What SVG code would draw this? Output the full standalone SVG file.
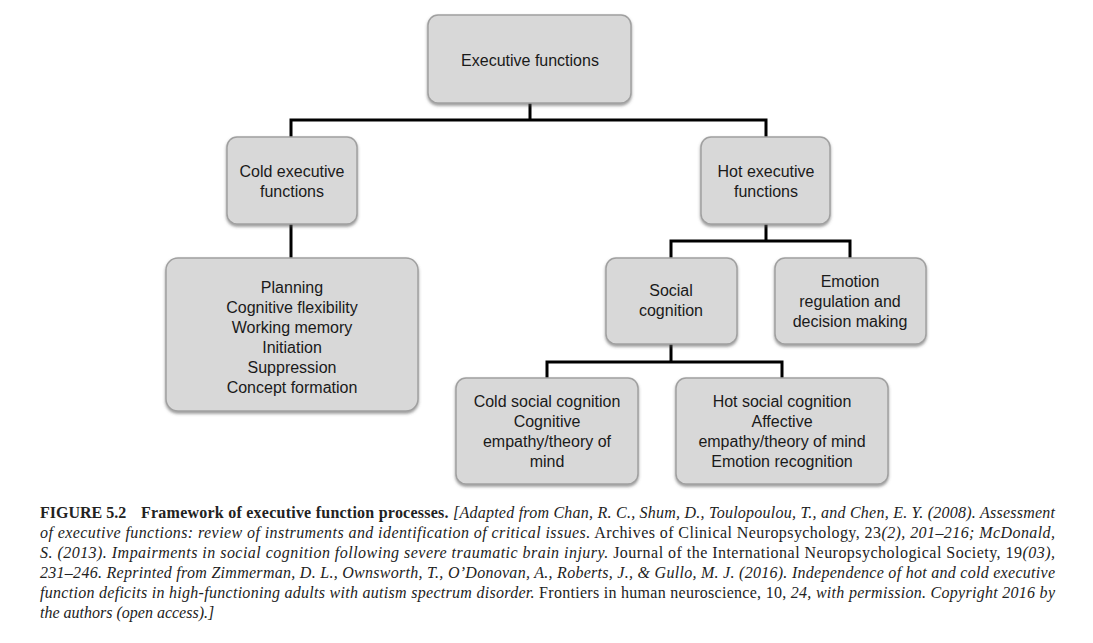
<svg xmlns="http://www.w3.org/2000/svg" width="1093" height="643" viewBox="0 0 1093 643">
<style>
.box{fill:#d8d8d8;stroke:#a0a0a0;stroke-width:1.5;filter:url(#sh)}
.lbl{font-family:"Liberation Sans",Arial,sans-serif;font-size:16px;fill:#1a1a1a;text-anchor:middle}
.conn{fill:none;stroke:#000;stroke-width:3}
.cap{font-family:"Liberation Serif","Times New Roman",serif;font-size:16px;fill:#222}
.b{font-weight:bold}
.i{font-style:italic}
</style>
<defs>
<filter id="sh" x="-10%" y="-10%" width="120%" height="130%">
<feDropShadow dx="0" dy="2" stdDeviation="1.5" flood-color="#555" flood-opacity="0.6"/>
</filter>
</defs>
<rect width="1093" height="643" fill="#fff"/>
<g id="connectors">
<path class="conn" d="M530 103 V120 M291 137 V120 H766 V137"/>
<path class="conn" d="M291 224 V258"/>
<path class="conn" d="M766 224 V241 M671 258 V241 H850 V258"/>
<path class="conn" d="M671 344 V362 M547 378 V362 H782 V378"/>
</g>
<g id="executive-functions">
<rect class="box" x="428" y="15" width="203" height="88" rx="10"/>
<text class="lbl" x="530" y="66">Executive functions</text>
</g>
<g id="cold-executive">
<rect class="box" x="227" y="137" width="130" height="87" rx="10"/>
<text class="lbl" x="292" y="177">Cold executive</text>
<text class="lbl" x="292" y="197">functions</text>
</g>
<g id="hot-executive">
<rect class="box" x="701" y="137" width="129" height="87" rx="10"/>
<text class="lbl" x="766" y="177">Hot executive</text>
<text class="lbl" x="766" y="197">functions</text>
</g>
<g id="cold-list">
<rect class="box" x="166" y="258" width="252" height="153" rx="12"/>
<text class="lbl" x="292" y="293">Planning</text>
<text class="lbl" x="292" y="313">Cognitive flexibility</text>
<text class="lbl" x="292" y="333">Working memory</text>
<text class="lbl" x="292" y="353">Initiation</text>
<text class="lbl" x="292" y="373">Suppression</text>
<text class="lbl" x="292" y="393">Concept formation</text>
</g>
<g id="social-cognition">
<rect class="box" x="606" y="258" width="131" height="86" rx="10"/>
<text class="lbl" x="671" y="296">Social</text>
<text class="lbl" x="671" y="316">cognition</text>
</g>
<g id="emotion-regulation">
<rect class="box" x="775" y="258" width="151" height="86" rx="10"/>
<text class="lbl" x="850" y="287">Emotion</text>
<text class="lbl" x="850" y="307">regulation and</text>
<text class="lbl" x="850" y="327">decision making</text>
</g>
<g id="cold-social">
<rect class="box" x="456" y="378" width="182" height="106" rx="10"/>
<text class="lbl" x="547" y="407">Cold social cognition</text>
<text class="lbl" x="547" y="427">Cognitive</text>
<text class="lbl" x="547" y="447">empathy/theory of</text>
<text class="lbl" x="547" y="467">mind</text>
</g>
<g id="hot-social">
<rect class="box" x="676" y="378" width="212" height="106" rx="10"/>
<text class="lbl" x="782" y="407">Hot social cognition</text>
<text class="lbl" x="782" y="427">Affective</text>
<text class="lbl" x="782" y="447">empathy/theory of mind</text>
<text class="lbl" x="782" y="467">Emotion recognition</text>
</g>
<g id="caption">
<text class="cap b" x="40" y="518">FIGURE 5.2</text>
<text class="cap" x="141" y="518" textLength="914" lengthAdjust="spacing"><tspan class="b">Framework of executive function processes.</tspan> <tspan class="i">[Adapted from Chan, R. C., Shum, D., Toulopoulou, T., and Chen, E. Y. (2008). Assessment</tspan></text>
<text class="cap" x="40" y="538" textLength="1015" lengthAdjust="spacing"><tspan class="i">of executive functions: review of instruments and identification of critical issues.</tspan> Archives of Clinical Neuropsychology, 23<tspan class="i">(2), 201–216; McDonald,</tspan></text>
<text class="cap" x="40" y="558" textLength="1015" lengthAdjust="spacing"><tspan class="i">S. (2013). Impairments in social cognition following severe traumatic brain injury.</tspan> Journal of the International Neuropsychological Society, 19<tspan class="i">(03),</tspan></text>
<text class="cap i" x="40" y="578" textLength="1015" lengthAdjust="spacing">231–246. Reprinted from Zimmerman, D. L., Ownsworth, T., O’Donovan, A., Roberts, J., &amp; Gullo, M. J. (2016). Independence of hot and cold executive</text>
<text class="cap" x="40" y="598" textLength="1015" lengthAdjust="spacing"><tspan class="i">function deficits in high-functioning adults with autism spectrum disorder.</tspan> Frontiers in human neuroscience, 10, <tspan class="i">24, with permission. Copyright 2016 by</tspan></text>
<text class="cap i" x="40" y="618">the authors (open access).]</text>
</g>
</svg>
